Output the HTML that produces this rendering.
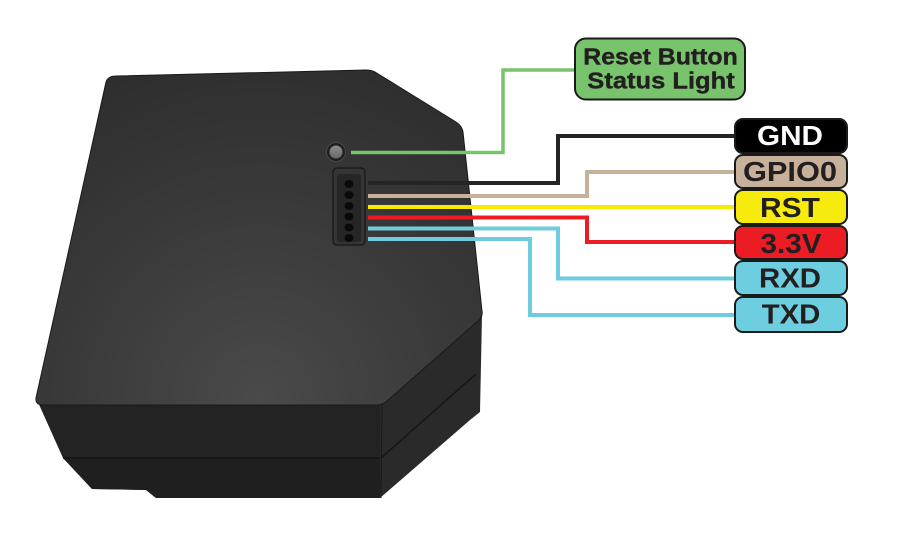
<!DOCTYPE html>
<html><head><meta charset="utf-8"><style>
html,body{margin:0;padding:0;background:#fff;}
svg{display:block;}
text{font-family:"Liberation Sans",Arial,sans-serif;font-weight:bold;}
</style></head><body>
<svg width="900" height="550" viewBox="0 0 900 550" xmlns="http://www.w3.org/2000/svg">
<defs>
<radialGradient id="top" cx="260" cy="400" r="380" gradientUnits="userSpaceOnUse">
<stop offset="0" stop-color="#4a4a4a"/>
<stop offset="0.5" stop-color="#3a3a3a"/>
<stop offset="1" stop-color="#2c2c2c"/>
</radialGradient>
<linearGradient id="btn" x1="0" y1="0" x2="0" y2="1">
<stop offset="0" stop-color="#8a8a8a"/>
<stop offset="1" stop-color="#6a6a6a"/>
</linearGradient>
</defs>

<!-- lower body: front faces -->
<path d="M37,400 L383,404 L380,498 L156,498 L146,490 L92,489 L63,458 Z" fill="#232323"/>
<path d="M63,458 L381,458 L380,498 L156,498 L146,490 L92,489 Z" fill="#1f1f1f"/>
<line x1="63" y1="458" x2="381" y2="458" stroke="#121212" stroke-width="1.5"/>
<!-- right chamfer side face -->
<path d="M380,405 L482,315 L480,412 L470,420 L380,498 Z" fill="#2a2a2a"/>
<line x1="381" y1="458" x2="476" y2="374" stroke="#161616" stroke-width="1.5"/>
<line x1="382" y1="404" x2="381" y2="498" stroke="#1a1a1a" stroke-width="1"/>

<!-- top face -->
<path d="M106,82 Q108,76 116,76 L366,70 Q371,70 375,72 L456,122 Q462,126 463,132 L482,311 Q483,317 478,321 L387,401 Q383,405 377,405 L42,405 Q35,404 36,398 Z" fill="url(#top)" stroke="#1a1a1a" stroke-width="1"/>

<!-- button -->
<circle cx="336" cy="152" r="10" fill="#1f1f1f"/>
<circle cx="336" cy="152" r="9.5" fill="none" stroke="#4a4a4a" stroke-width="1"/>
<circle cx="336" cy="152" r="6.5" fill="url(#btn)"/>

<!-- connector -->
<rect x="333" y="168" width="32" height="77" rx="4" fill="#353535" stroke="#1c1c1c" stroke-width="1.5"/>
<rect x="337" y="174" width="24" height="68" rx="3" fill="#262626"/>
<g fill="#0a0a0a">
<ellipse cx="349" cy="184" rx="4.5" ry="4"/>
<ellipse cx="349" cy="195" rx="4.5" ry="4"/>
<ellipse cx="349" cy="206" rx="4.5" ry="4"/>
<ellipse cx="349" cy="216.5" rx="4.5" ry="4"/>
<ellipse cx="349" cy="227.5" rx="4.5" ry="4"/>
<ellipse cx="349" cy="238" rx="4.5" ry="4"/>
</g>

<!-- wires -->
<g fill="none" stroke-width="4" stroke-linejoin="miter" stroke-linecap="butt">
<polyline points="351,152.5 503,152.5 503,70 576,70" stroke="#78c46d" stroke-width="3.5"/>
<polyline points="368,183 558,183 558,136 736,136" stroke="#242424"/>
<polyline points="368,196 587,196 587,172 736,172" stroke="#c6b29b"/>
<polyline points="368,207 736,207" stroke="#f8ea00"/>
<polyline points="368,217.5 587,217.5 587,242 736,242" stroke="#ec1c24"/>
<polyline points="368,228.5 558,228.5 558,278.5 736,278.5" stroke="#6dcddf"/>
<polyline points="368,239 530,239 530,315 736,315" stroke="#6dcddf"/>
</g>

<!-- Reset label -->
<rect x="575" y="38.5" width="170" height="61" rx="11" fill="#78c46d" stroke="#1a1a1a" stroke-width="2"/>
<g text-anchor="middle" fill="#231f20" font-size="23" stroke="#231f20" stroke-width="0.4">
<text transform="translate(660.5,64.5) scale(1.08,1)">Reset Button</text>
<text transform="translate(661,88.5) scale(1.11,1)">Status Light</text>
</g>

<!-- pin labels -->
<g stroke="#1a1a1a" stroke-width="2">
<rect x="735" y="119" width="112" height="34" rx="8" fill="#000"/>
<rect x="735" y="155" width="112" height="33" rx="8" fill="#c8b19a"/>
<rect x="735" y="190" width="112" height="34" rx="8" fill="#f6eb0c"/>
<rect x="735" y="226" width="112" height="33" rx="8" fill="#ec1c24"/>
<rect x="735" y="261" width="112" height="34" rx="8" fill="#6dcee0"/>
<rect x="735" y="297" width="112" height="35" rx="8" fill="#6dcee0"/>
</g>
<g font-size="28" text-anchor="middle" fill="#231f20">
<text transform="translate(790,145) scale(1.06,1)" fill="#ffffff">GND</text>
<text transform="translate(790,181) scale(1.10,1)">GPIO0</text>
<text transform="translate(790,217) scale(1.07,1)">RST</text>
<text transform="translate(791,253) scale(1.06,1)">3.3V</text>
<text transform="translate(790,287.5) scale(1.05,1)">RXD</text>
<text transform="translate(791,323.5) scale(1.05,1)">TXD</text>
</g>
</svg>
</body></html>
